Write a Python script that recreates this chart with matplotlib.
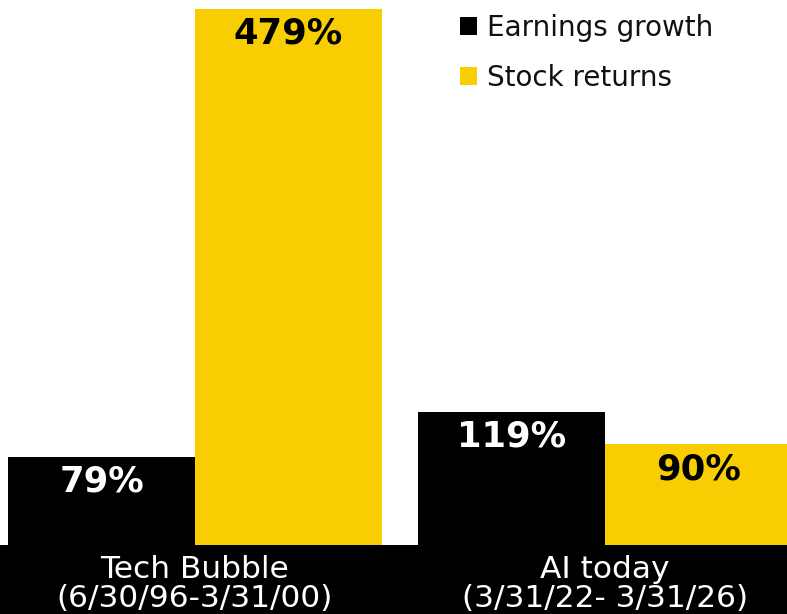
import matplotlib
matplotlib.use("Agg")
import matplotlib.pyplot as plt
from matplotlib.patches import Rectangle
import numpy as np

categories = ["Tech Bubble\n(6/30/96-3/31/00)", "AI today\n(3/31/22- 3/31/26)"]
series_names = ["Earnings growth", "Stock returns"]
earnings_growth = [79, 119]
stock_returns = [479, 90]
value_labels_earn = ["79%", "119%"]
value_labels_stock = ["479%", "90%"]

BLACK = "#000000"
YELLOW = "#F8CE03"

plt.rcParams['font.family'] = ['DejaVu Sans']

W, H = 787, 614
fig = plt.figure(figsize=(W / 100, H / 100), dpi=100)
fig.patch.set_facecolor("white")

band_h = 69 / H
# black band along the bottom holding the category labels
fig.patches.append(Rectangle((0, 0), 1, band_h, transform=fig.transFigure,
                             facecolor=BLACK, edgecolor="none", zorder=-5))

ax = fig.add_axes([0, band_h, 1, 1 - band_h])
ax.set_facecolor("none")
ax.set_zorder(2)

x = np.arange(len(categories))
w = 0.456
b1 = ax.bar(x - w / 2, earnings_growth, width=w, color=BLACK, label=series_names[0])
b2 = ax.bar(x + w / 2, stock_returns, width=w, color=YELLOW, label=series_names[1])

ax.set_xlim(-0.4756, 1.4439)
ax.set_ylim(0, 486.6)

for rect, txt in zip(b1, value_labels_earn):
    ax.annotate(txt, (rect.get_x() + rect.get_width() / 2, rect.get_height()),
                xytext=(0, -18), textcoords="offset points", ha="center", va="center",
                color="white", fontsize=25.5, fontweight="bold")
for rect, txt in zip(b2, value_labels_stock):
    ax.annotate(txt, (rect.get_x() + rect.get_width() / 2, rect.get_height()),
                xytext=(0, -18), textcoords="offset points", ha="center", va="center",
                color="black", fontsize=25.5, fontweight="bold")

ax.set_xticks(x)
ax.set_xticklabels(categories)
ax.tick_params(axis="x", length=0, pad=7, colors="white", labelsize=22.5)
for lbl in ax.get_xticklabels():
    lbl.set_linespacing(1.0)
    lbl.set_verticalalignment("top")
ax.set_yticks([])
for s in ax.spines.values():
    s.set_visible(False)

leg = ax.legend(loc="upper left", bbox_to_anchor=(460 / W, 1 - 14 / H),
                bbox_transform=fig.transFigure, frameon=False, fontsize=20,
                handlelength=0.62, handleheight=0.62, handletextpad=0.36,
                labelspacing=0.78, borderpad=0, borderaxespad=0)
for t in leg.get_texts():
    t.set_color("#111111")

fig.savefig("out.png", dpi=100, facecolor="white")
